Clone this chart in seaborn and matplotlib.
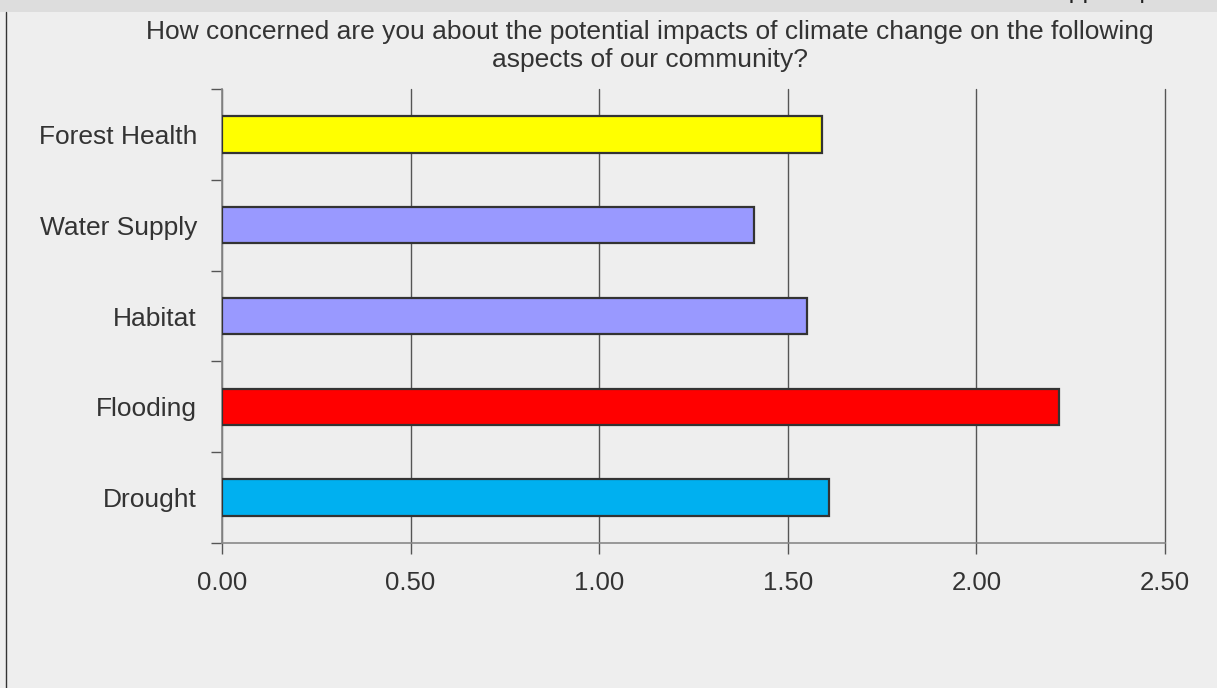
import matplotlib
matplotlib.use("Agg")
import matplotlib.pyplot as plt
import seaborn as sns
import pandas as pd
from matplotlib.patches import Rectangle
from matplotlib.lines import Line2D

categories = ["Forest Health", "Water Supply", "Habitat", "Flooding", "Drought"]
values = [1.59, 1.41, 1.55, 2.22, 1.61]
colors = ["#ffff00", "#9999ff", "#9999ff", "#ff0000", "#00b0f0"]
xticks = [0.0, 0.5, 1.0, 1.5, 2.0, 2.5]
xticklabels = ["0.00", "0.50", "1.00", "1.50", "2.00", "2.50"]
title = ("How concerned are you about the potential impacts of climate change on the following\n"
         "aspects of our community?")

sns.set_theme(style="white")
plt.rcParams["font.family"] = ["Liberation Sans", "DejaVu Sans"]

df = pd.DataFrame({"cat": categories, "val": values})

fig = plt.figure(figsize=(12.17, 6.88), dpi=100)
fig.patch.set_facecolor("#eeeeee")
ax = fig.add_axes([222/1217, 1 - 543/688, (1165-222)/1217, (543-89)/688])
ax.set_facecolor("#eeeeee")

sns.barplot(data=df, y="cat", x="val", hue="cat", palette=colors, order=categories,
            hue_order=categories, legend=False, width=0.4, edgecolor="#333333",
            linewidth=1.6, saturation=1, ax=ax, zorder=3)

ax.set_xlim(0, 2.5)
ax.set_ylim(len(categories) - 0.5, -0.5)
ax.set_xticks(xticks)
ax.set_xticklabels(xticklabels, fontsize=18.5, color="#333333")
ax.set_yticks([i - 0.5 for i in range(len(categories) + 1)], minor=False)
ax.set_yticklabels([])
ax.set_yticks(range(len(categories)), minor=True)
ax.set_yticklabels(categories, minor=True, fontsize=19, color="#333333")
ax.tick_params(axis="y", which="minor", length=0, pad=18)
ax.tick_params(axis="y", which="major", length=8, color="#555555", width=1, direction="out", left=True)
ax.tick_params(axis="x", length=8, color="#555555", width=1, direction="out", bottom=True, pad=12)
ax.set_xlabel("")
ax.set_ylabel("")
ax.xaxis.grid(True, color="#555555", linewidth=1, zorder=0)
for gl in ax.xaxis.get_gridlines():
    gl.set_clip_on(False)
ax.yaxis.grid(False)
for s in ["top", "right"]:
    ax.spines[s].set_visible(False)
for s in ["left", "bottom"]:
    ax.spines[s].set_color("#888888")
    ax.spines[s].set_linewidth(1.2)

fig.text(650/1217, 1 - 20/688, title, fontsize=19, color="#333333", ha="center",
         va="top", linespacing=1.22)

# top band and left border
fig.patches.append(Rectangle((0, 1 - 12/688), 1, 12/688, transform=fig.transFigure,
                             facecolor="#dddddd", edgecolor="none", zorder=-1))
fig.lines.append(Line2D([6/1217, 6/1217], [0, 1 - 12/688], transform=fig.transFigure,
                        color="#333333", linewidth=1))
fig.text(1130/1217, 1 + 2/688, "Skipped question", fontsize=18, color="#222222",
         ha="center", va="baseline")

fig.savefig("out.png", dpi=100, facecolor=fig.get_facecolor())
